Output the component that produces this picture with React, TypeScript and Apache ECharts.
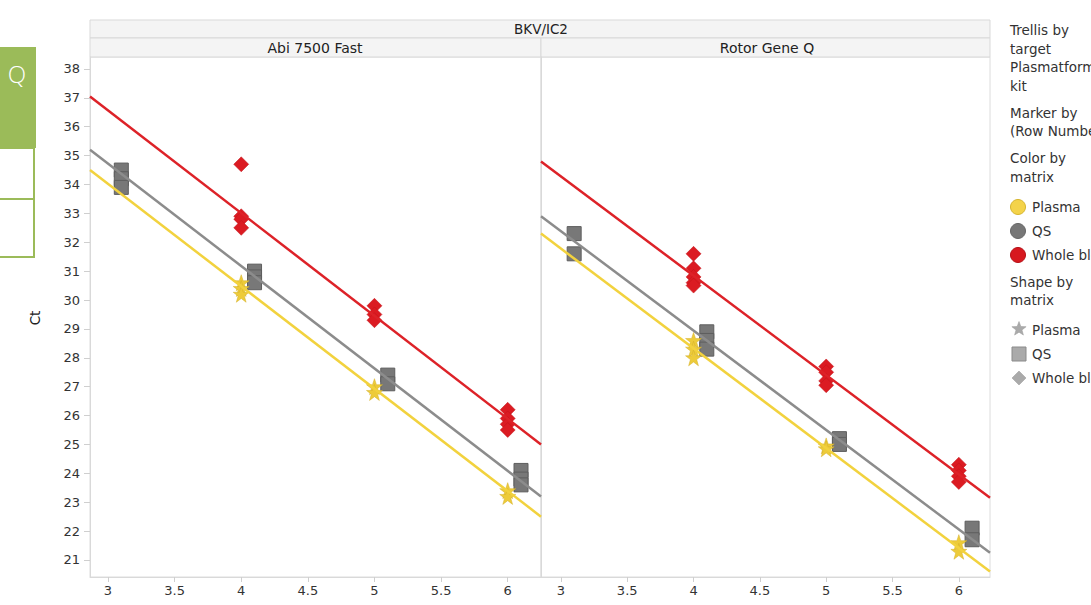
import React, { useEffect, useRef } from "react";
import * as echarts from "echarts";

// ---- data ----
const X_TICKS = [3, 3.5, 4, 4.5, 5, 5.5, 6];
const Y_TICKS = [21, 22, 23, 24, 25, 26, 27, 28, 29, 30, 31, 32, 33, 34, 35, 36, 37, 38];
const PANELS = ["Abi 7500 Fast", "Rotor Gene Q"];
const TRELLIS_TITLE = "BKV/IC2";
const MATRICES = ["Plasma", "QS", "Whole blood"];

// Abi 7500 Fast
const abiPlasma = [[4, 30.6], [4, 30.4], [4, 30.2], [5, 27.0], [5, 26.8], [6, 23.4], [6, 23.2]];
const abiQS = [[3.1, 34.5], [3.1, 34.2], [3.1, 33.9], [4.1, 31.0], [4.1, 30.8], [4.1, 30.6], [5.1, 27.4], [5.1, 27.1], [6.1, 24.1], [6.1, 23.8], [6.1, 23.6]];
const abiWhole = [[4, 34.7], [4, 32.9], [4, 32.8], [4, 32.5], [5, 29.8], [5, 29.5], [5, 29.3], [6, 26.2], [6, 25.9], [6, 25.7], [6, 25.5]];
const abiPlasmaFit = [[2.865, 34.5], [6.25, 22.5]];
const abiQSFit = [[2.865, 35.2], [6.25, 23.2]];
const abiWholeFit = [[2.865, 37.05], [6.25, 25.0]];

// Rotor Gene Q
const rgqPlasma = [[4, 28.6], [4, 28.3], [4, 28.0], [5, 24.95], [5, 24.85], [6, 21.6], [6, 21.3]];
const rgqQS = [[3.1, 32.3], [3.1, 31.6], [4.1, 28.9], [4.1, 28.6], [4.1, 28.3], [5.1, 25.2], [5.1, 25.0], [6.1, 22.1], [6.1, 21.7]];
const rgqWhole = [[4, 31.6], [4, 31.1], [4, 30.8], [4, 30.6], [4, 30.5], [5, 27.7], [5, 27.5], [5, 27.2], [5, 27.05], [6, 24.3], [6, 24.1], [6, 23.9], [6, 23.7]];
const rgqPlasmaFit = [[2.85, 32.3], [6.235, 20.6]];
const rgqQSFit = [[2.85, 32.9], [6.235, 21.25]];
const rgqWholeFit = [[2.85, 34.8], [6.235, 23.15]];

const X_RANGES = [[2.865, 6.25], [2.85, 6.235]];
const Y_RANGE = [20.41, 38.415];

const COLORS = { plasma: "#EDCB3A", qs: "#787878", whole: "#DB1B22" };
const LINE_COLORS = { plasma: "#F2D23E", qs: "#8C8C8C", whole: "#DD2228" };

const STAR =
  "path://M50,2 L61.8,36.6 L98,36.6 L68.8,58.4 L79.4,94 L50,72.4 L20.6,94 L31.2,58.4 L2,36.6 L38.2,36.6 Z";

const FONT = "DejaVu Sans, Verdana, sans-serif";

function starPoints(cx: number, cy: number, r: number) {
  const pts: number[][] = [];
  for (let i = 0; i < 10; i++) {
    const rr = i % 2 === 0 ? r : r * 0.42;
    const a = -Math.PI / 2 + (i * Math.PI) / 5;
    pts.push([cx + rr * Math.cos(a), cy + rr * Math.sin(a)]);
  }
  return pts;
}

export default function App() {
  const ref = useRef<HTMLDivElement>(null);
  useEffect(() => {
    if (!ref.current) return;
    const chart = echarts.init(ref.current, undefined, { renderer: "svg" });

    const grids = [
      { left: 90, top: 57, width: 451, height: 520 },
      { left: 541, top: 57, width: 449, height: 520 },
    ].map((g) => ({ ...g, show: true, borderColor: "#dcdcdc", borderWidth: 1, backgroundColor: "#fff" }));

    const xAxes = [0, 1].map((i) => ({
      type: "value",
      gridIndex: i,
      min: X_RANGES[i][0],
      max: X_RANGES[i][1],
      axisLine: { show: true, lineStyle: { color: "#d9d9d9" } },
      axisTick: { show: true, length: 5, lineStyle: { color: "#cfcfcf" }, customValues: X_TICKS },
      axisLabel: { show: true, customValues: X_TICKS, color: "#333", fontSize: 13, fontFamily: FONT, margin: 7, formatter: (v: number) => String(v) },
      splitLine: { show: false },
    }));

    const yAxes = [0, 1].map((i) => ({
      type: "value",
      gridIndex: i,
      min: Y_RANGE[0],
      max: Y_RANGE[1],
      axisLine: { show: true, lineStyle: { color: "#d9d9d9" } },
      axisTick: { show: i === 0, length: 6, lineStyle: { color: "#cfcfcf" }, customValues: Y_TICKS },
      axisLabel: { show: i === 0, customValues: Y_TICKS, color: "#333", fontSize: 13, fontFamily: FONT, margin: 10, formatter: (v: number) => String(v) },
      splitLine: { show: false },
    }));

    const panelData = [
      { plasma: abiPlasma, qs: abiQS, whole: abiWhole, fits: { plasma: abiPlasmaFit, qs: abiQSFit, whole: abiWholeFit } },
      { plasma: rgqPlasma, qs: rgqQS, whole: rgqWhole, fits: { plasma: rgqPlasmaFit, qs: rgqQSFit, whole: rgqWholeFit } },
    ];

    const series: any[] = [];
    panelData.forEach((p, i) => {
      series.push({
        type: "scatter", xAxisIndex: i, yAxisIndex: i, data: p.qs, symbol: "rect", symbolSize: [14, 14], z: 2,
        itemStyle: { color: COLORS.qs, borderColor: "#5e5e5e", borderWidth: 1, opacity: 1 },
      });
      series.push({
        type: "scatter", xAxisIndex: i, yAxisIndex: i, data: p.whole, symbol: "diamond", symbolSize: [15, 15], z: 2,
        itemStyle: { color: COLORS.whole, borderColor: "#c0141a", borderWidth: 0.5, opacity: 1 },
      });
      series.push({
        type: "scatter", xAxisIndex: i, yAxisIndex: i, data: p.plasma, symbol: STAR, symbolSize: [16, 16], z: 2,
        itemStyle: { color: COLORS.plasma, borderColor: "#d4b12a", borderWidth: 0.5, opacity: 1 },
      });
      (["qs", "plasma", "whole"] as const).forEach((k) => {
        series.push({
          type: "line", xAxisIndex: i, yAxisIndex: i, data: (p.fits as any)[k], symbol: "none", z: 3,
          lineStyle: { color: (LINE_COLORS as any)[k], width: 2.5 },
        });
      });
    });

    const legendText = (y: number, text: string, x = 1010) => ({
      type: "text", x, y,
      style: { text, fill: "#333", font: `13.5px ${FONT}`, textVerticalAlign: "middle" },
    });

    const graphic: any[] = [
      // green side box
      { type: "rect", shape: { x: -3, y: 47, width: 39, height: 101 }, style: { fill: "#9BBB59" } },
      { type: "rect", shape: { x: -3, y: 148, width: 37, height: 51 }, style: { fill: "#fff", stroke: "#9BBB59", lineWidth: 2 } },
      { type: "rect", shape: { x: -3, y: 199, width: 37, height: 58 }, style: { fill: "#fff", stroke: "#9BBB59", lineWidth: 2 } },
      { type: "text", x: 17, y: 73, style: { text: "Q", fill: "#fff", font: `300 24px Open Sans, sans-serif`, textAlign: "center", textVerticalAlign: "middle" } },
      // header
      { type: "rect", shape: { x: 90, y: 20, width: 900, height: 18 }, style: { fill: "#f4f4f4", stroke: "#d9d9d9", lineWidth: 1 } },
      { type: "rect", shape: { x: 90, y: 38, width: 451, height: 19 }, style: { fill: "#f4f4f4", stroke: "#d9d9d9", lineWidth: 1 } },
      { type: "rect", shape: { x: 541, y: 38, width: 449, height: 19 }, style: { fill: "#f4f4f4", stroke: "#d9d9d9", lineWidth: 1 } },
      { type: "text", x: 541, y: 29, style: { text: TRELLIS_TITLE, fill: "#222", font: `13.5px ${FONT}`, textAlign: "center", textVerticalAlign: "middle" } },
      { type: "text", x: 315, y: 47.5, style: { text: PANELS[0], fill: "#222", font: `14px ${FONT}`, textAlign: "center", textVerticalAlign: "middle" } },
      { type: "text", x: 767, y: 47.5, style: { text: PANELS[1], fill: "#222", font: `14px ${FONT}`, textAlign: "center", textVerticalAlign: "middle" } },
      // y axis title
      { type: "text", x: 35, y: 318, rotation: Math.PI / 2, style: { text: "Ct", fill: "#222", font: `13.5px ${FONT}`, textAlign: "center", textVerticalAlign: "middle" } },
      // legend
      legendText(30, "Trellis by"),
      legendText(49, "target"),
      legendText(67, "Plasmatform"),
      legendText(86, "kit"),
      legendText(113, "Marker by"),
      legendText(131, "(Row Number)"),
      legendText(158, "Color by"),
      legendText(177, "matrix"),
      { type: "circle", shape: { cx: 1018, cy: 207, r: 7.5 }, style: { fill: "#F4D34A", stroke: "#d6b52e", lineWidth: 1 } },
      legendText(207, MATRICES[0], 1032),
      { type: "circle", shape: { cx: 1018, cy: 231, r: 7.5 }, style: { fill: "#777", stroke: "#666", lineWidth: 1 } },
      legendText(231, MATRICES[1], 1032),
      { type: "circle", shape: { cx: 1018, cy: 255, r: 7.5 }, style: { fill: "#D7181F", stroke: "#b51016", lineWidth: 1 } },
      legendText(255, MATRICES[2], 1032),
      legendText(282, "Shape by"),
      legendText(300, "matrix"),
      { type: "polygon", shape: { points: starPoints(1019, 329, 7.5) }, style: { fill: "#aaa", stroke: "#999", lineWidth: 0.5 } },
      legendText(330, MATRICES[0], 1032),
      { type: "rect", shape: { x: 1012, y: 347, width: 14, height: 14 }, style: { fill: "#aaa", stroke: "#8a8a8a", lineWidth: 1 } },
      legendText(354, MATRICES[1], 1032),
      { type: "polygon", shape: { points: [[1019, 371], [1026, 378], [1019, 385], [1012, 378]] }, style: { fill: "#aaa", stroke: "#999", lineWidth: 0.5 } },
      legendText(378, MATRICES[2], 1032),
    ];

    chart.setOption({
      animation: false,
      backgroundColor: "#fff",
      grid: grids,
      xAxis: xAxes,
      yAxis: yAxes,
      series,
      graphic,
    });
    return () => chart.dispose();
  }, []);
  return <div ref={ref} style={{ position: "fixed", left: 0, top: 0, width: 1091, height: 605 }} />;
}
